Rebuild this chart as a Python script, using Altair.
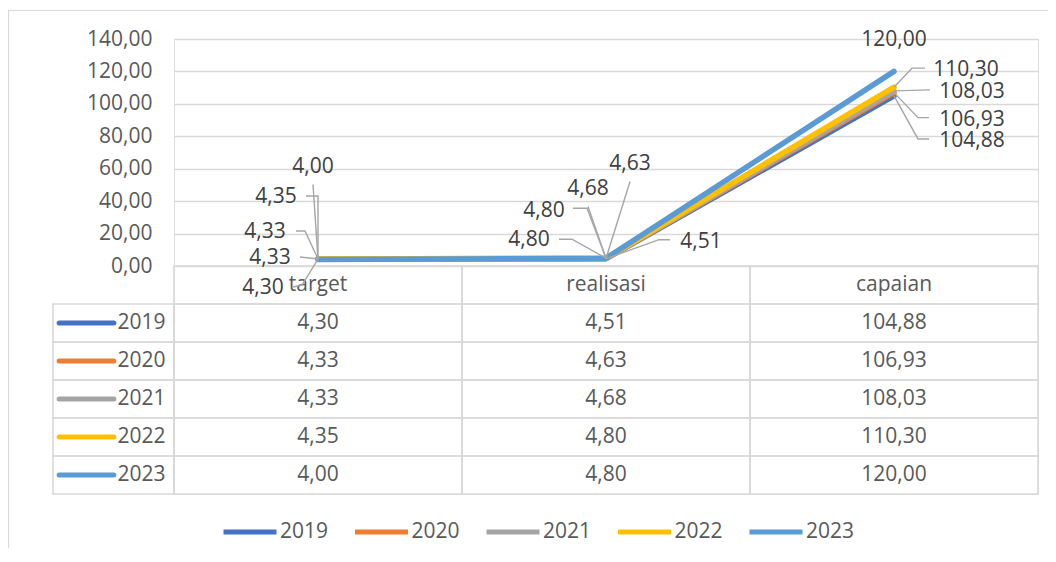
import altair as alt
import pandas as pd

# ---------------- data ----------------
categories = ["target", "realisasi", "capaian"]
years = ["2019", "2020", "2021", "2022", "2023"]
target = [4.30, 4.33, 4.33, 4.35, 4.00]
realisasi = [4.51, 4.63, 4.68, 4.80, 4.80]
capaian = [104.88, 106.93, 108.03, 110.30, 120.00]
y_ticks = [0, 20, 40, 60, 80, 100, 120, 140]
colors = ["#4472C4", "#ED7D31", "#A5A5A5", "#FFC000", "#5B9BD5"]

# ---------------- label layout (pixel offsets from each point) ----------------
label_offset = {
    ("2019", "target"): (-55, 29), ("2020", "target"): (-48, -1),
    ("2021", "target"): (-53, -27), ("2022", "target"): (-42, -62),
    ("2023", "target"): (-5, -93),
    ("2019", "realisasi"): (95, -17), ("2020", "realisasi"): (24, -94),
    ("2021", "realisasi"): (-18, -69), ("2022", "realisasi"): (-62, -47),
    ("2023", "realisasi"): (-77, -18),
    ("2019", "capaian"): (78, 45), ("2020", "capaian"): (78, 27),
    ("2021", "capaian"): (78, 1), ("2022", "capaian"): (72, -17),
    ("2023", "capaian"): (0, -31),
}
leader_path = {
    ("2019", "target"): [(0, 0), (-16, 26), (-25, 28)],
    ("2020", "target"): [(0, 0), (-18, -2)],
    ("2021", "target"): [(0, 0), (-13, -28), (-22, -28)],
    ("2022", "target"): [(0, 0), (0, -63), (-12, -63)],
    ("2023", "target"): [(0, 0), (-5, -75)],
    ("2019", "realisasi"): [(0, 0), (53, -19), (64, -19)],
    ("2020", "realisasi"): [(0, 0), (24, -77)],
    ("2021", "realisasi"): [(0, 0), (-18, -52)],
    ("2022", "realisasi"): [(0, 0), (-19, -50), (-33, -50)],
    ("2023", "realisasi"): [(0, 0), (-34, -19), (-47, -19)],
    ("2019", "capaian"): [(0, 0), (24, 43), (35, 43)],
    ("2020", "capaian"): [(0, 0), (24, 25), (35, 25)],
    ("2021", "capaian"): [(0, 0), (36, -1)],
    ("2022", "capaian"): [(0, 0), (18, -19), (31, -19)],
}

def fmt(v):
    return f"{v:.2f}".replace(".", ",")

series = {"target": target, "realisasi": realisasi, "capaian": capaian}
rows, lab_rows, lead_rows = [], [], []
for i, yr in enumerate(years):
    for c in categories:
        v = series[c][i]
        rows.append(dict(year=yr, cat=c, value=v, label=fmt(v)))
        dx, dy = label_offset[(yr, c)]
        lab_rows.append(dict(year=yr, cat=c, value=v, label=fmt(v), dx=dx, dy=dy))
        for k, (ox, oy) in enumerate(leader_path.get((yr, c), [])):
            lead_rows.append(dict(id=f"{yr}-{c}", k=k, cat=c, value=v, ox=ox, oy=oy))
df = pd.DataFrame(rows)
df_lab = pd.DataFrame(lab_rows)
df_lead = pd.DataFrame(lead_rows)
df_hdr = pd.DataFrame({"cat": categories, "row": ["hdr"] * 3})
df_yrs = pd.DataFrame({"year": years, "col": ["lbl"] * len(years)})
df_one = pd.DataFrame({"a": [0]})

# ---------------- layout ----------------
W, H, PLOT_H, LBL_W = 864, 455, 227, 121
Y_MAX = 140
PX = Y_MAX / PLOT_H  # value units per pixel on the y scale
FONT = "Open Sans"
TXT = "#595959"
GRID = "#d9d9d9"

x_point = alt.Scale(type="point", domain=categories, range=[0, W], padding=0.5)
x_band = alt.Scale(type="band", domain=categories, range=[0, W], paddingInner=0, paddingOuter=0)
x_lbl = alt.Scale(type="band", domain=["lbl"], range=[-LBL_W, 0], paddingInner=0, paddingOuter=0)
y_val = alt.Scale(domain=[0, Y_MAX], range=[PLOT_H, 0], nice=False, zero=True)
y_row = alt.Scale(type="band", domain=["hdr"] + years, range=[PLOT_H, H], paddingInner=0, paddingOuter=0)
col_scale = alt.Scale(domain=years, range=colors)

frame = alt.Chart(df_one).mark_rect(fill="white", fillOpacity=0, stroke=GRID, strokeWidth=1.2).encode(
    x=alt.value(-165.5), x2=alt.value(W + 40), y=alt.value(-28.5), y2=alt.value(H + 100)
)

cell_kw = dict(fill="white", fillOpacity=0, stroke=GRID, strokeWidth=1.6)
body_cells = alt.Chart(df).mark_rect(**cell_kw).encode(
    x=alt.X("cat:N", scale=x_band, axis=None),
    y=alt.Y("year:N", scale=y_row, axis=None),
)
hdr_cells = alt.Chart(df_hdr).mark_rect(**cell_kw).encode(
    x=alt.X("cat:N", scale=x_band, axis=None),
    y=alt.Y("row:N", scale=y_row, axis=None),
)
lbl_cells = alt.Chart(df_yrs).mark_rect(**cell_kw).encode(
    x=alt.X("col:N", scale=x_lbl, axis=None),
    y=alt.Y("year:N", scale=y_row, axis=None),
)
body_text = alt.Chart(df).mark_text(font=FONT, fontSize=21, color=TXT, baseline="middle").encode(
    x=alt.X("cat:N", scale=x_band, axis=None),
    y=alt.Y("year:N", scale=y_row, axis=None),
    text="label:N",
)
hdr_text = alt.Chart(df_hdr).mark_text(font=FONT, fontSize=21, color=TXT, baseline="middle").encode(
    x=alt.X("cat:N", scale=x_band, axis=None),
    y=alt.Y("row:N", scale=y_row, axis=None),
    text="cat:N",
)
lbl_sym = alt.Chart(df_yrs).mark_point(shape="stroke", size=3000, strokeWidth=5, strokeCap="round",
                                       opacity=1, xOffset=-27).encode(
    x=alt.X("col:N", scale=x_lbl, axis=None),
    y=alt.Y("year:N", scale=y_row, axis=None),
    color=alt.Color("year:N", scale=col_scale, legend=None),
)
lbl_text = alt.Chart(df_yrs).mark_text(font=FONT, fontSize=21, color=TXT, baseline="middle",
                                       align="left", dx=4).encode(
    x=alt.X("col:N", scale=x_lbl, axis=None),
    y=alt.Y("year:N", scale=y_row, axis=None),
    text="year:N",
)

lines = alt.Chart(df).mark_line(strokeWidth=5.5, strokeCap="round", strokeJoin="round").encode(
    x=alt.X("cat:N", scale=x_point, axis=None),
    y=alt.Y("value:Q", scale=y_val, axis=alt.Axis(
        values=y_ticks, domain=False, ticks=False, tickSize=0, labelPadding=22,
        labelFont=FONT, labelFontSize=21, labelColor=TXT,
        labelExpr="replace(format(datum.value, '.2f'), '.', ',')",
        grid=True, gridColor=GRID, gridWidth=1.5, title=None)),
    color=alt.Color("year:N", scale=col_scale, legend=alt.Legend(
        orient="none", legendX=47, legendY=464, direction="horizontal", columns=5,
        title=None, symbolType="stroke", symbolSize=2809, symbolStrokeWidth=5,
        symbolOpacity=1,
        labelFont=FONT, labelFontSize=21, labelColor=TXT, columnPadding=15.5,
        labelOffset=1, padding=0)),
)

leaders = alt.Chart(df_lead).transform_calculate(
    ly=f"datum.value - datum.oy * {PX}"
).mark_line(color="#a6a6a6", strokeWidth=1.4).encode(
    x=alt.X("cat:N", scale=x_point, axis=None),
    y=alt.Y("ly:Q", scale=y_val, axis=None),
    xOffset=alt.XOffset("ox:Q", scale=None),
    detail="id:N",
    order="k:O",
)

labels = alt.Chart(df_lab).transform_calculate(
    ly=f"datum.value - datum.dy * {PX}"
).mark_text(font=FONT, fontSize=21, color="#404040", baseline="middle").encode(
    x=alt.X("cat:N", scale=x_point, axis=None),
    y=alt.Y("ly:Q", scale=y_val, axis=None),
    xOffset=alt.XOffset("dx:Q", scale=None),
    text="label:N",
)

chart = alt.layer(
    frame, body_cells, hdr_cells, lbl_cells, body_text, hdr_text, lbl_sym, lbl_text,
    lines, leaders, labels
).resolve_scale(x="independent", y="independent", color="independent").properties(
    width=W, height=H,
    autosize=alt.AutoSizeParams(type="none"),
    padding={"left": 166, "top": 31, "right": 10, "bottom": 54},
).configure_view(stroke=None).configure(font=FONT)

chart.save("out.html", embed_options={"renderer": "svg", "actions": False})
